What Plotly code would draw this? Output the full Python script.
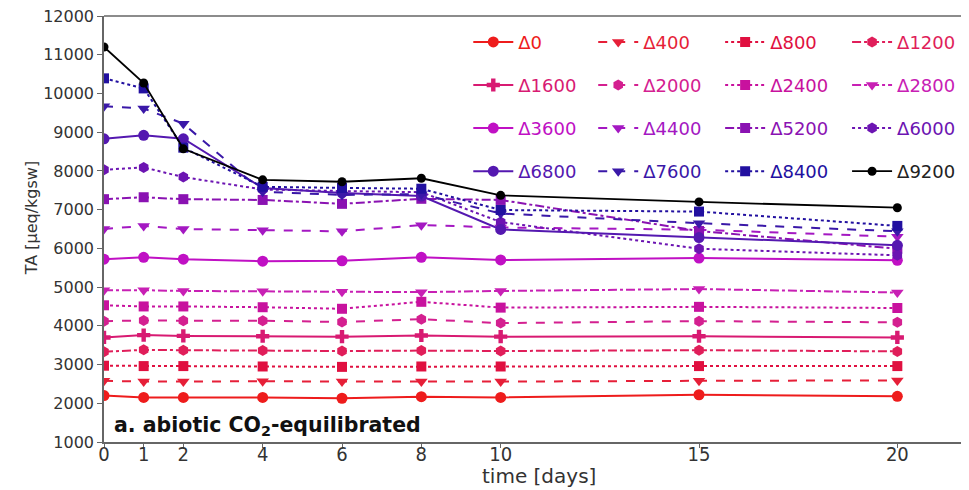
import plotly.graph_objects as go

times = [0, 1, 2, 4, 6, 8, 10, 15, 20]

labels = ["Δ0", "Δ400", "Δ800", "Δ1200", "Δ1600", "Δ2000", "Δ2400", "Δ2800",
          "Δ3600", "Δ4400", "Δ5200", "Δ6000", "Δ6800", "Δ7600", "Δ8400", "Δ9200"]

d0 = [2200, 2150, 2150, 2150, 2130, 2170, 2150, 2220, 2180]
d400 = [2580, 2560, 2560, 2570, 2560, 2560, 2560, 2580, 2590]
d800 = [2970, 2960, 2960, 2950, 2940, 2950, 2950, 2960, 2960]
d1200 = [3330, 3380, 3370, 3360, 3350, 3360, 3350, 3370, 3340]
d1600 = [3700, 3760, 3740, 3730, 3720, 3750, 3720, 3730, 3700]
d2000 = [4120, 4140, 4130, 4130, 4100, 4170, 4070, 4120, 4090]
d2400 = [4530, 4500, 4500, 4480, 4440, 4620, 4470, 4490, 4460]
d2800 = [4920, 4920, 4900, 4890, 4880, 4870, 4900, 4950, 4860]
d3600 = [5720, 5770, 5720, 5670, 5680, 5770, 5700, 5750, 5690]
d4400 = [6500, 6580, 6500, 6470, 6440, 6600, 6540, 6480, 6300]
d5200 = [7270, 7320, 7270, 7250, 7150, 7280, 7250, 6450, 5990]
d6000 = [8030, 8090, 7840, 7520, 7480, 7450, 6680, 5990, 5820]
d6800 = [8830, 8920, 8830, 7560, 7430, 7350, 6490, 6280, 6080]
d7600 = [9670, 9610, 9220, 7460, 7380, 7400, 6900, 6650, 6440]
d8400 = [10390, 10130, 8600, 7590, 7560, 7540, 6990, 6950, 6580]
d9200 = [11200, 10270, 8570, 7770, 7720, 7810, 7370, 7200, 7050]

series = [d0, d400, d800, d1200, d1600, d2000, d2400, d2800,
          d3600, d4400, d5200, d6000, d6800, d7600, d8400, d9200]

colors = ["#ee1c1c", "#e61f38", "#e01040", "#e01e5a", "#d81a72", "#d42090",
          "#c8129e", "#c820b4", "#c010c4", "#a418c2", "#8a12b2", "#6c14b2",
          "#5418b0", "#3a18a8", "#2210a0", "#000000"]
symbols = ["circle", "triangle-down", "square", "hexagon", "cross", "hexagon",
           "square", "triangle-down", "circle", "triangle-down", "square", "hexagon",
           "circle", "triangle-down", "square", "circle"]
dashes = ["solid", "dash", "dot", "dashdot", "solid", "dash", "dot", "dashdot",
          "solid", "dash", "dashdot", "dot", "solid", "dash", "dot", "solid"]
msizes = [11, 11, 10, 11, 11, 11, 10, 11, 11, 11, 10, 11, 11, 11, 10, 9]

# the page body has an 8px margin; figure is sized to fill the 969x490 window
OFF = 8
FW, FH = 969 - OFF, 490 - OFF
L, R, T, B = 103.5 - OFF, 969.0 - OFF, 15.7 - OFF, 441.7 - OFF
W, H = R - L, B - T

def px(xp):
    return (xp - OFF - L) / W

def py(yp):
    return (B - (yp - OFF)) / H

fig = go.Figure()
leg_text_px = [517, 642, 769, 896]
leg_rows_px = [42.6, 85.0, 127.4, 169.8]

for i, (lab, ys) in enumerate(zip(labels, series)):
    lkey = "legend" if i == 0 else f"legend{i+1}"
    fig.add_trace(go.Scatter(
        x=times, y=ys, name=lab, mode="lines+markers",
        line=dict(color=colors[i], width=2 if i < 15 else 1.8, dash=dashes[i]),
        marker=dict(symbol=symbols[i], size=msizes[i], color=colors[i],
                    line=dict(width=0)),
        legend=lkey, showlegend=True,
    ))
    r, c = divmod(i, 4)
    fig.layout[lkey] = dict(
        x=px(leg_text_px[c] - 49), y=py(leg_rows_px[r] - 0.7 * (1 - r)),
        xanchor="left", yanchor="middle", bgcolor="rgba(0,0,0,0)",
        borderwidth=0, itemwidth=40,
        font=dict(family="DejaVu Sans", size=18, color=colors[i] if i < 15 else "#222222"),
    )

axis_col = "#666666"
fig.update_layout(
    width=FW, height=FH,
    margin=dict(l=L, r=0, t=T, b=FH - B, autoexpand=False),
    paper_bgcolor="white", plot_bgcolor="white",
    font=dict(family="DejaVu Sans", color="#333333"),
    xaxis=dict(range=[0, W / ((897.3 - 103.5) / 20)], tickvals=times,
               showgrid=False, zeroline=False, showline=True, linecolor=axis_col,
               linewidth=1.5, ticks="outside", ticklen=4, tickcolor=axis_col,
               tickfont=dict(family="DejaVu Sans Condensed, DejaVu Sans", size=20,
                             color="#333333"),
               ticklabelstandoff=-11, ticklabeloverflow="allow"),
    yaxis=dict(range=[1000, 12000], dtick=1000, tickformat="d", showgrid=False,
               zeroline=False, showline=True, linecolor=axis_col, linewidth=1.5,
               ticks="outside", ticklen=5, tickcolor=axis_col,
               tickfont=dict(size=16, color="#333333"), ticklabeloverflow="allow"),
    shapes=[dict(type="line", xref="paper", yref="paper", x0=0, x1=1, y0=1, y1=1,
                 line=dict(color=axis_col, width=1.5))],
    annotations=[
        dict(text="<b>a. abiotic CO<sub>2</sub>-equilibrated</b>",
             xref="paper", yref="paper", x=px(112), y=py(425.5),
             xanchor="left", yanchor="middle", showarrow=False,
             font=dict(family="DejaVu Sans", size=20.5, color="#111111")),
        dict(text="time [days]", xref="paper", yref="paper", x=px(539), y=py(476),
             xanchor="center", yanchor="middle", showarrow=False,
             font=dict(family="DejaVu Sans", size=20, color="#333333")),
        dict(text="TA [μeq/kgsw]", xref="paper", yref="paper", x=px(31), y=py(218.5),
             xanchor="center", yanchor="middle", showarrow=False, textangle=-90,
             font=dict(family="DejaVu Sans", size=16, color="#333333")),
    ],
)

fig.write_html("out.html")
